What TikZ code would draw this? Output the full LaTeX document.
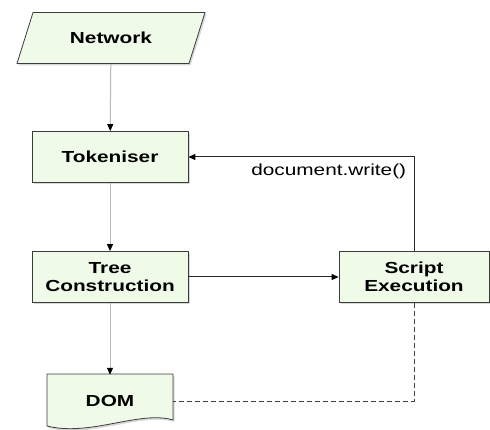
\documentclass[tikz,border=0pt]{standalone}
\usepackage{fontspec}
\setmainfont[FakeStretch=1.3]{Liberation Sans}
\usetikzlibrary{arrows.meta,shapes.geometric,shadows,positioning}
\definecolor{boxfill}{RGB}{240,250,232}
\definecolor{boxline}{RGB}{60,60,60}
\begin{document}
\begin{tikzpicture}[x=1pt, y=-1pt,
  shade/.style={drop shadow={shadow xshift=1.5pt, shadow yshift=-2pt, opacity=0.3}},
  box/.style={draw=boxline, fill=boxfill, line width=0.8pt, shade,
    font=\bfseries\fontsize{16}{18}\selectfont, align=center,
    minimum width=156pt, minimum height=51pt},
  flow/.style={draw=gray!55, line width=1pt, -{Triangle[length=7pt,width=6pt,color=black]}},
  link/.style={draw=black!85, line width=1pt, -{Triangle[length=7pt,width=6pt,color=black]}},
  weak/.style={draw=black!75, line width=1pt, dash pattern=on 5pt off 3pt}]
  \useasboundingbox (0,0) rectangle (490,430);

  \node[box, trapezium, trapezium left angle=49, trapezium right angle=131,
    trapezium stretches body, minimum width=188pt] (net) at (111,38) {Network};
  \node[box] (tok) at (110,157) {Tokeniser};
  \node[box] (tree) at (110,277) {Tree\\Construction};
  \node[box, minimum width=150pt] (script) at (414,277) {Script\\Execution};

  \fill[boxfill, draw=boxline, line width=0.8pt, shade]
    (47,374) -- (173,374) -- (173,420) .. controls (140,410) and (90,437) .. (47,426) -- cycle;
  \node[font=\bfseries\fontsize{16}{18}\selectfont, minimum width=126pt, minimum height=52pt] (dom) at (110,401) {DOM};

  \draw[flow] (net) -- (tok);
  \draw[flow] (tok) -- (tree);
  \draw[flow] (tree) -- (dom.north);
  \draw[link] (tree) -- (script);
  \draw[link] (script.north) |- node[pos=0.5, anchor=north east, xshift=-4pt, yshift=-3pt,
    font=\fontsize{16}{18}\selectfont] {document.write()} (tok.east);
  \draw[weak] (script.south) |- (dom.east);
\end{tikzpicture}
\end{document}
